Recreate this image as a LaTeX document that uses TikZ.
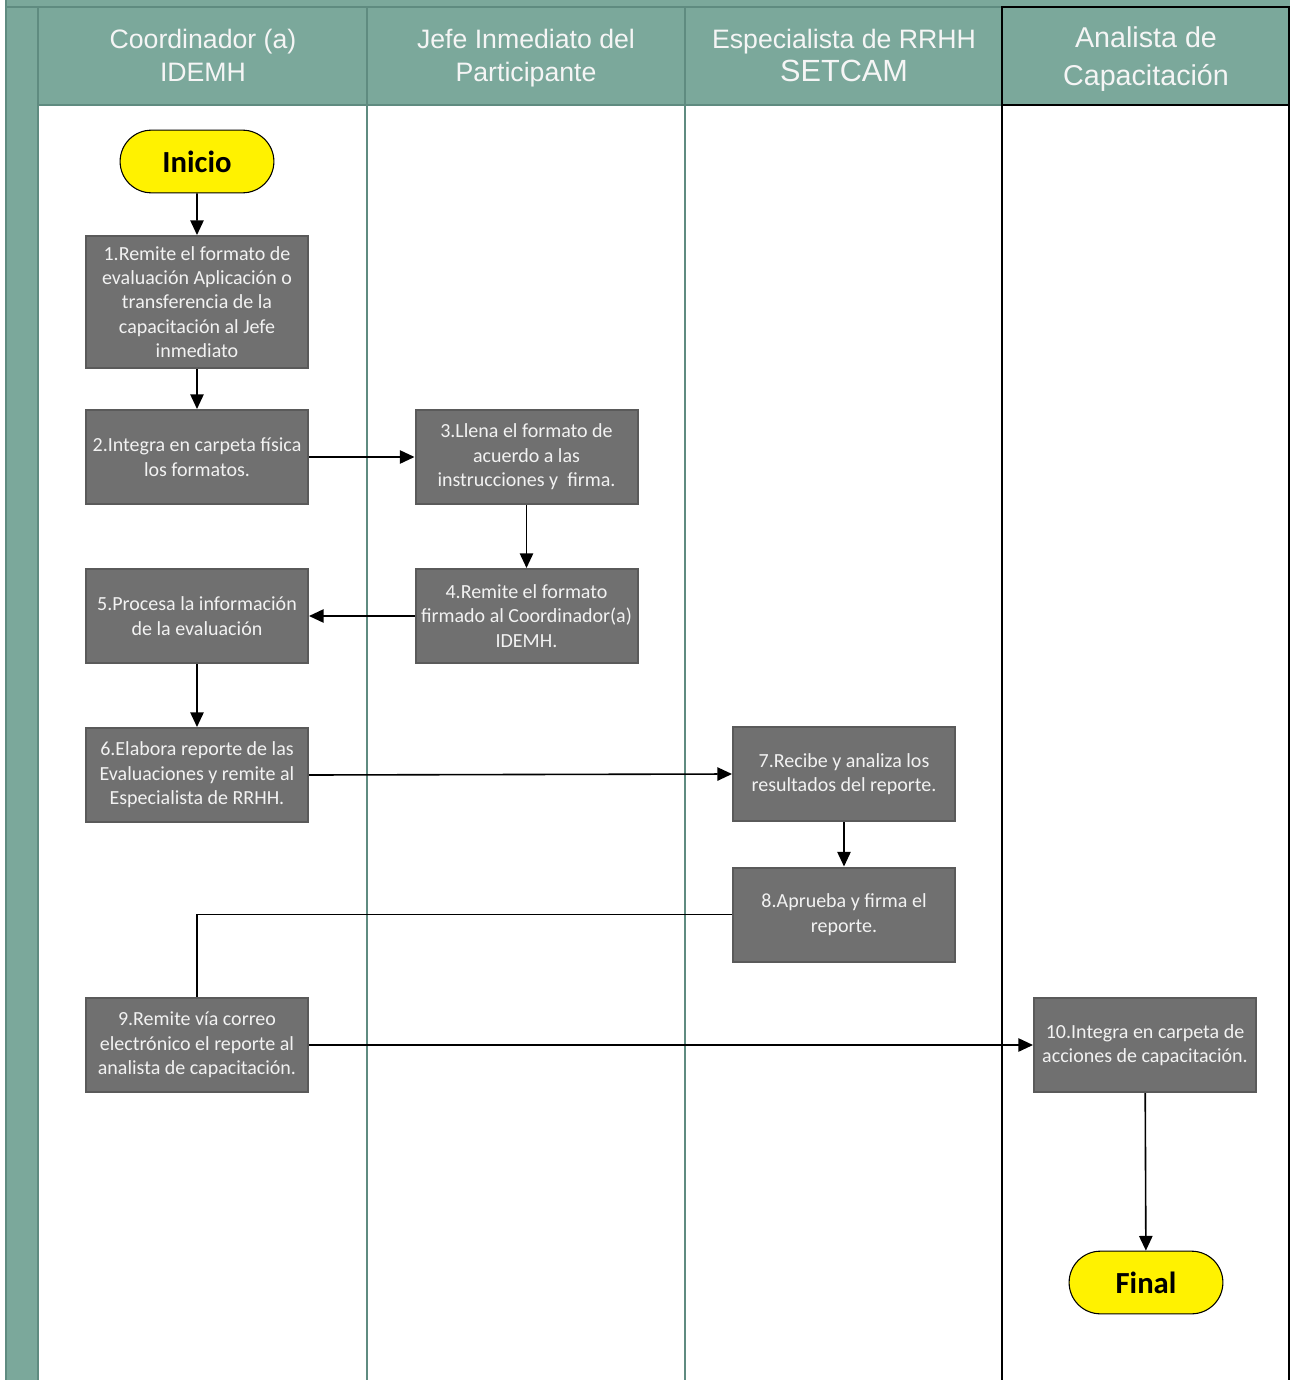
\documentclass[tikz,border=0pt]{standalone}
\usepackage{fontspec}
\setmainfont{Carlito}
\newfontfamily\lanefont{Liberation Sans}
\usetikzlibrary{arrows.meta,shapes.misc}
\definecolor{poolteal}{HTML}{7BA89B}
\definecolor{pooledge}{HTML}{5F8B80}
\definecolor{stepgray}{HTML}{707070}
\definecolor{stepedge}{HTML}{5A5A5A}
\definecolor{steptext}{HTML}{F2F2F2}
\tikzset{
  stepbox/.style={draw=stepedge, line width=1.5pt, fill=stepgray, text=steptext,
    align=center, minimum width=166.5pt, minimum height=70.5pt, inner sep=1pt,
    font=\fontsize{15}{18.3}\selectfont},
  terminal/.style={rounded rectangle, draw=black, line width=0.8pt, fill=yellow,
    minimum width=122pt, minimum height=47pt, font=\fontsize{23}{27}\selectfont\bfseries},
  lanetitle/.style={text=white!96!black, align=center, font=\lanefont\fontsize{20}{24.75}\selectfont},
  flow/.style={-{Triangle[length=11pt,width=10pt]}, line width=1.2pt},
}

\begin{document}
\begin{tikzpicture}[x=0.75pt,y=-0.75pt]
  \clip (0,0) rectangle (1296,1380);
  \fill[white] (0,0) rectangle (1296,1380);
  \fill[poolteal] (6,-5) rectangle (1290,105);
  \fill[poolteal] (6,105) rectangle (38,1390);
  \draw[pooledge, line width=2.2pt] (6,-5) -- (6,1390);
  \draw[pooledge, line width=2.2pt] (6,7) -- (1290,7);
  \draw[pooledge, line width=2.2pt] (38,7) -- (38,1390);
  \draw[pooledge, line width=2.2pt] (367,7) -- (367,1390);
  \draw[pooledge, line width=2.2pt] (685,7) -- (685,1390);
  \draw[pooledge, line width=2.2pt] (38,105) -- (1002,105);
  \draw[black, line width=1.6pt] (1002,1390) -- (1002,7) -- (1289,7) -- (1289,1390);
  \draw[black, line width=1.6pt] (1002,105) -- (1289,105);

  \node[lanetitle] (coord) at (203,55.5) {Coordinador (a)\\IDEMH};
  \node[lanetitle] (jefe) at (526,58.5) {Jefe Inmediato del\\Participante};
  \node[lanetitle] (espec) at (844,55.5) {Especialista de RRHH\\{\fontsize{23}{24.75}\selectfont SETCAM}};
  \node[lanetitle, font=\lanefont\fontsize{21.5}{28.5}\selectfont] (anal) at (1146,59) {Analista de\\Capacitación};

  \node[terminal] (inicio) at (197,161.5) {Inicio};
  \node[stepbox, minimum height=99pt] (s1) at (197,302) {1.Remite el formato de\\evaluación Aplicación o\\transferencia de la\\capacitación al Jefe\\inmediato};
  \node[stepbox] (s2) at (197,457) {2.Integra en carpeta física\\los formatos.};
  \node[stepbox] (s3) at (526.5,457) {3.Llena el formato de\\acuerdo a las\\instrucciones y\ \ firma.};
  \node[stepbox] (s4) at (526.5,616) {4.Remite el formato\\firmado al Coordinador(a)\\IDEMH.};
  \node[stepbox] (s5) at (197,616) {5.Procesa la información\\de la evaluación};
  \node[stepbox] (s6) at (197,775) {6.Elabora reporte de las\\Evaluaciones y remite al\\Especialista de RRHH.};
  \node[stepbox] (s7) at (844,774) {7.Recibe y analiza los\\resultados del reporte.};
  \node[stepbox] (s8) at (844,914.5) {8.Aprueba y firma el\\reporte.};
  \node[stepbox] (s9) at (197,1045) {9.Remite vía correo\\electrónico el reporte al\\analista de capacitación.};
  \node[stepbox] (s10) at (1145,1045) {10.Integra en carpeta de\\acciones de capacitación.};
  \node[terminal] (final) at (1146,1282.5) {Final};

  \draw[flow] (inicio) -- (s1);
  \draw[flow] (s1) -- (s2);
  \draw[flow] (s2) -- (s3);
  \draw[flow] (s3) -- (s4);
  \draw[flow] (s4) -- (s5);
  \draw[flow] (s5) -- (s6);
  \draw[flow] (s6.east) -- (s7.west);
  \draw[flow] (s7) -- (s8);
  \draw[line width=1.2pt] (s8.west) -| (s9.north);
  \draw[flow] (s9) -- (s10);
  \draw[flow] (s10) -- (final);
\end{tikzpicture}
\end{document}
